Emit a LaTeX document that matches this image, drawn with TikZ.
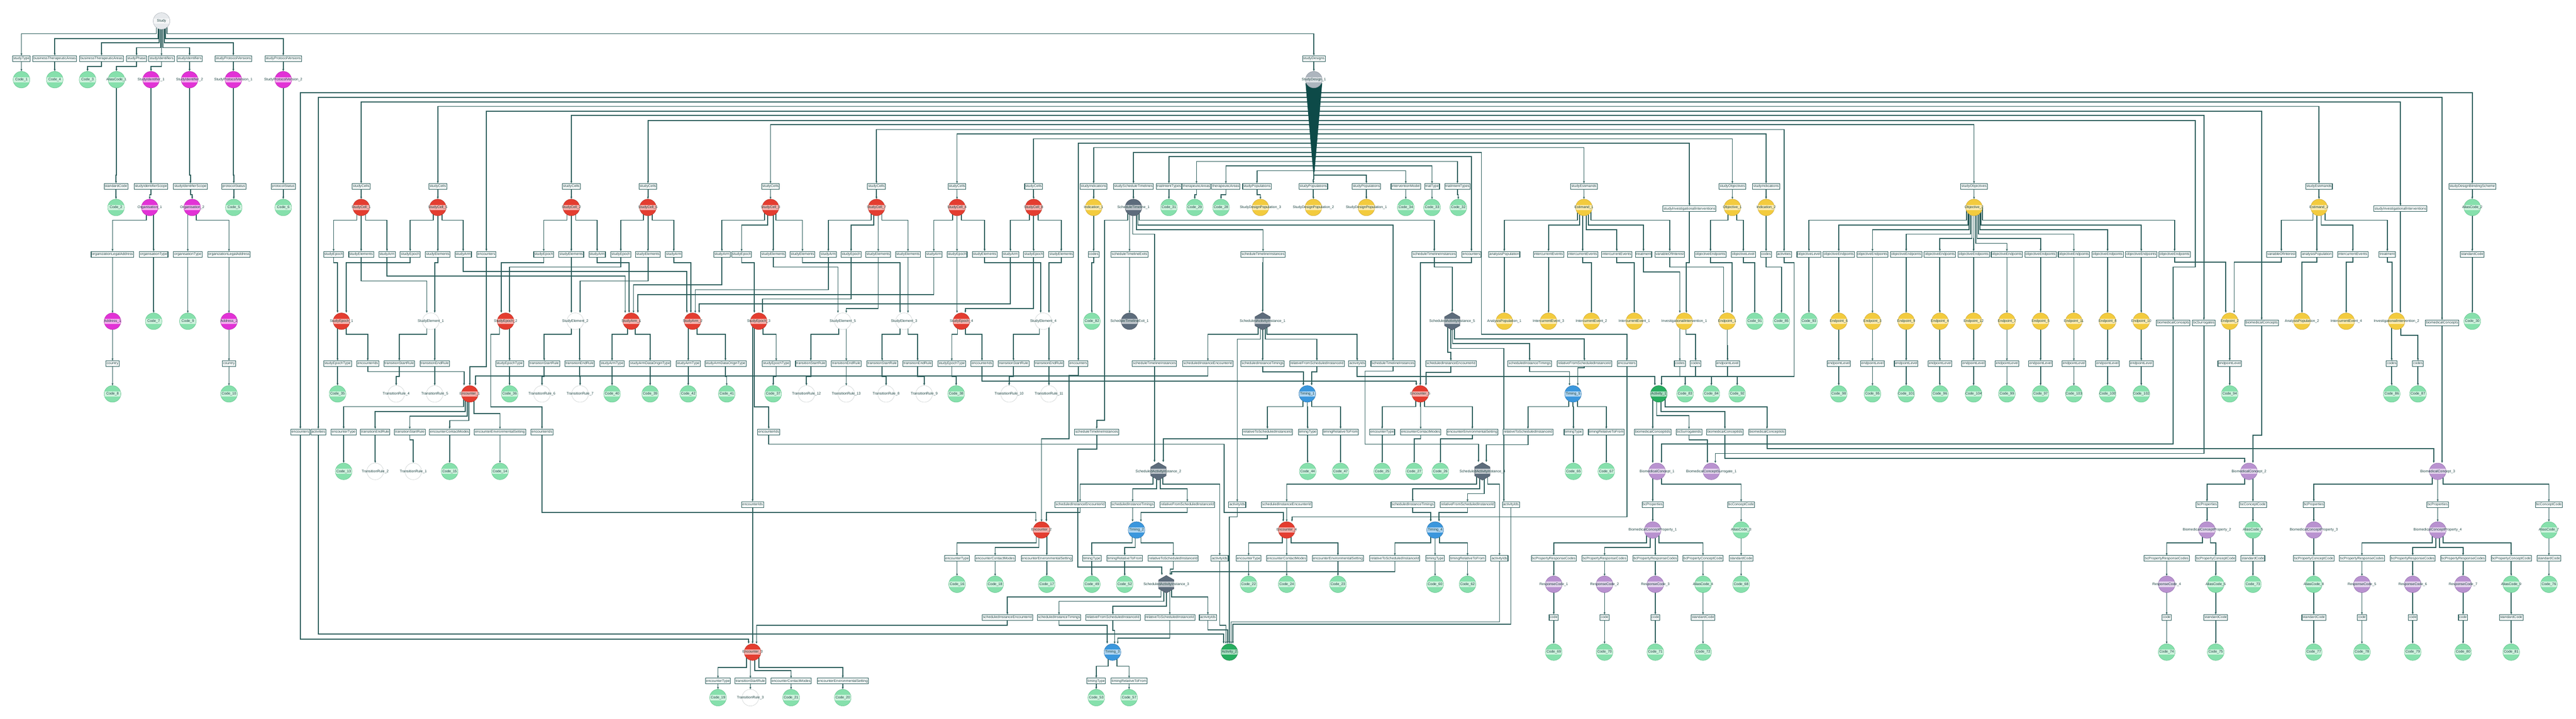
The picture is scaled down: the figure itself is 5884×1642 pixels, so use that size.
\documentclass[tikz,border=0pt]{standalone}
\usepackage{fontspec}
\setmainfont{Liberation Sans}
\usetikzlibrary{arrows.meta,shapes.geometric}
\pgfdeclarelayer{bg}
\pgfsetlayers{bg,main}
\definecolor{ln}{HTML}{2A5C5A}
\definecolor{tx}{HTML}{1A4240}
\definecolor{fanc}{HTML}{0D4A48}
\definecolor{cgr}{HTML}{86E0AC}\definecolor{cgrb}{HTML}{5EBF88}
\definecolor{cmg}{HTML}{E232D6}\definecolor{cmgb}{HTML}{B524AA}
\definecolor{crd}{HTML}{E43D30}\definecolor{crdb}{HTML}{B32D22}
\definecolor{cyl}{HTML}{F3CB3E}\definecolor{cylb}{HTML}{C9A42E}
\definecolor{cbl}{HTML}{3B97DD}\definecolor{cblb}{HTML}{2A72AA}
\definecolor{cpu}{HTML}{B992D0}\definecolor{cpub}{HTML}{8E69A8}
\definecolor{cdg}{HTML}{27AD5F}\definecolor{cdgb}{HTML}{1C7F45}
\definecolor{csl}{HTML}{5D6C7C}\definecolor{cslb}{HTML}{454F5C}
\definecolor{clg}{HTML}{E6E9EC}\definecolor{clgb}{HTML}{A8AFB5}
\definecolor{csd}{HTML}{ADB5BE}\definecolor{csdb}{HTML}{8A929B}
\definecolor{cwhb}{HTML}{C8CDCD}
\newcommand\nfs{\fontsize{5.8pt}{6.5pt}\selectfont}
\tikzset{
 bx/.style={draw=ln, fill=white, line width=0.9pt, inner xsep=1.1pt, inner ysep=1.7pt, text=tx, font=\nfs, text height=4.4pt, text depth=1.4pt},
 cband/.style={path picture={\fill[white,fill opacity=0.6] ([yshift=-1.5mm]path picture bounding box.west) rectangle ([yshift=1.5mm]path picture bounding box.east);}},
 ccirc/.style={circle, minimum size=9.5mm, inner sep=0pt, line width=0.45pt, cband},
 ngr/.style={ccirc, fill=cgr, draw=cgrb},
 nmg/.style={ccirc, fill=cmg, draw=cmgb},
 nrd/.style={ccirc, fill=crd, draw=crdb},
 nyl/.style={ccirc, fill=cyl, draw=cylb},
 nbl/.style={ccirc, fill=cbl, draw=cblb},
 npu/.style={ccirc, fill=cpu, draw=cpub},
 ndg/.style={ccirc, fill=cdg, draw=cdgb},
 nsl/.style={ccirc, fill=csl, draw=cslb},
 nlg/.style={ccirc, fill=clg, draw=clgb},
 nsd/.style={ccirc, fill=csd, draw=csdb},
 nwh/.style={ccirc, fill=white, draw=cwhb},
 nhx/.style={circle, minimum size=10.4mm, inner sep=0pt, path picture={
   \path[fill=csl, draw=cslb, line width=0.45pt] (path picture bounding box.center) ++(90:5.05mm) -- ++(-30:5.05mm) -- ++(-90:5.05mm) -- ++(-150:5.05mm) -- ++(150:5.05mm) -- ++(90:5.05mm) -- cycle;
   \fill[white, fill opacity=0.6] ([xshift=-4.35mm,yshift=-1.5mm]path picture bounding box.center) rectangle ([xshift=4.35mm,yshift=1.5mm]path picture bounding box.center);}},
 cl/.style={font=\nfs, text=tx, inner sep=0pt},
 conn/.style={draw=ln, line width=0.5mm, -{Stealth[length=1.3mm,width=1.1mm]}},
}
\newcommand\NB[4]{\node[bx] (#1) at (#2,#3) {#4};}
\newcommand\NC[5]{\node[#5] (#1) at (#2,#3) {}; \node[cl] (#1-t) at (#1.center) {#4};}
\newcommand\eD[5]{%
 \path ([xshift=#2*0.25mm]#1.center) coordinate (es) ([xshift=#4*0.25mm]#3.north) coordinate (et) (0,#5) coordinate (em);
 \draw[conn] (es) -- (es |- em) -- (et |- em) -- (et);}
\newcommand\eS[3]{\eD{#1}{0}{#2}{0}{#3}}
\newcommand\eF[7]{%
 \path ([xshift=#2*0.25mm]#1.center) coordinate (es) ([xshift=#4*0.25mm]#3.north) coordinate (et) (#6,#5) coordinate (ea) (#6,#7) coordinate (eb);
 \draw[conn] (es) -- (es |- ea) -- (ea) -- (eb) -- (et |- eb) -- (et);}
\begin{document}
\begin{tikzpicture}[x=0.25mm,y=-0.25mm]
\useasboundingbox (0,0) rectangle (5884,1642);
\begin{pgfonlayer}{bg}\fill[white] (0,0) rectangle (5884,1642);\end{pgfonlayer}
% ===== top =====
\NC{study}{369}{48}{Study}{nlg}
\NB{bst}{49}{134}{studyType}
\NB{bta1}{125}{134}{businessTherapeuticAreas}
\NB{bta2}{232}{134}{businessTherapeuticAreas}
\NB{bsp}{312}{134}{studyPhase}
\NB{bsi1}{369}{134}{studyIdentifiers}
\NB{bsi2}{433}{134}{studyIdentifiers}
\NB{bspv1}{533}{134}{studyProtocolVersions}
\NB{bspv2}{647}{134}{studyProtocolVersions}
\NB{bsd}{3001}{134}{studyDesigns}
\NC{code1}{49}{182}{Code\_1}{ngr}
\NC{code4}{125}{182}{Code\_4}{ngr}
\NC{code3}{200}{182}{Code\_3}{ngr}
\NC{alias1}{266}{182}{AliasCode\_1}{ngr}
\NC{sid1}{345}{182}{StudyIdentifier\_1}{nmg}
\NC{sid2}{433}{182}{StudyIdentifier\_2}{nmg}
\NC{spv1}{533}{182}{StudyProtocolVersion\_1}{nmg}
\NC{spv2}{647}{182}{StudyProtocolVersion\_2}{nmg}
\NC{sd1}{3001}{182}{StudyDesign\_1}{nsd}
% ===== left column =====
\NB{lstd}{265}{426}{standardCode}
\NB{lsis1}{345}{426}{studyIdentifierScope}
\NB{lsis2}{435}{426}{studyIdentifierScope}
\NB{lps1}{534}{426}{protocolStatus}
\NB{lps2}{647}{426}{protocolStatus}
\NC{code2}{265}{474}{Code\_2}{ngr}
\NC{org1}{342}{474}{Organisation\_1}{nmg}
\NC{org2}{439}{474}{Organisation\_2}{nmg}
\NC{code5}{534}{474}{Code\_5}{ngr}
\NC{code6}{647}{474}{Code\_6}{ngr}
\NB{ola1}{257}{581}{organizationLegalAddress}
\NB{ot1}{351}{581}{organisationType}
\NB{ot2}{429}{581}{organisationType}
\NB{ola2}{523}{581}{organizationLegalAddress}
\NC{addr1}{257}{734}{Address\_1}{nmg}
\NC{code7}{351}{734}{Code\_7}{ngr}
\NC{code9}{429}{734}{Code\_9}{ngr}
\NC{addr2}{523}{734}{Address\_2}{nmg}
\NB{ctry1}{257}{831}{country}
\NB{ctry2}{523}{831}{country}
\NC{code8}{257}{900}{Code\_8}{ngr}
\NC{code10}{523}{900}{Code\_10}{ngr}
% ===== C row =====
\NB{sc1b}{825}{426}{studyCells}
\NB{sc5b}{1000}{426}{studyCells}
\NB{sc2b}{1305}{426}{studyCells}
\NB{sc6b}{1480}{426}{studyCells}
\NB{sc3b}{1760}{426}{studyCells}
\NB{sc7b}{2002}{426}{studyCells}
\NB{sc4b}{2186}{426}{studyCells}
\NB{sc8b}{2361}{426}{studyCells}
\NB{cind1}{2498}{426}{studyIndications}
\NB{csst}{2589}{426}{studyScheduleTimelines}
\NB{ctit1}{2670}{426}{trialIntentTypes}
\NB{cta1}{2733}{426}{therapeuticAreas}
\NB{cta2}{2800}{426}{therapeuticAreas}
\NB{csp3}{2871}{426}{studyPopulations}
\NB{csp2}{3000}{426}{studyPopulations}
\NB{csp1}{3121}{426}{studyPopulations}
\NB{cim}{3211}{426}{interventionModel}
\NB{ctt}{3271}{426}{trialType}
\NB{ctit2}{3329}{426}{trialIntentTypes}
\NB{cest1}{3618}{426}{studyEstimands}
\NB{csii1}{3859}{477}{studyInvestigationalInterventions}
\NB{cobj1}{3957}{426}{studyObjectives}
\NB{cind2}{4034}{426}{studyIndications}
\NB{cobj2}{4509}{426}{studyObjectives}
\NB{cest2}{5297}{426}{studyEstimands}
\NB{csii2}{5483}{477}{studyInvestigationalInterventions}
\NB{cbs}{5647}{426}{studyDesignBlindingScheme}
\NC{sc1}{825}{474}{StudyCell\_1}{nrd}
\NC{sc5}{1000}{474}{StudyCell\_5}{nrd}
\NC{sc2}{1305}{474}{StudyCell\_2}{nrd}
\NC{sc6}{1480}{474}{StudyCell\_6}{nrd}
\NC{sc3}{1760}{474}{StudyCell\_3}{nrd}
\NC{sc7}{2002}{474}{StudyCell\_7}{nrd}
\NC{sc4}{2186}{474}{StudyCell\_4}{nrd}
\NC{sc8}{2361}{474}{StudyCell\_8}{nrd}
\NC{ind1}{2498}{474}{Indication\_1}{nyl}
\NC{stl1}{2589}{474}{ScheduleTimeline\_1}{nsl}
\NC{code31}{2670}{474}{Code\_31}{ngr}
\NC{code29}{2729}{474}{Code\_29}{ngr}
\NC{code28}{2789}{474}{Code\_28}{ngr}
\NC{sdp3}{2879}{474}{StudyDesignPopulation\_3}{nyl}
\NC{sdp2}{3000}{474}{StudyDesignPopulation\_2}{nyl}
\NC{sdp1}{3121}{474}{StudyDesignPopulation\_1}{nyl}
\NC{code34}{3211}{474}{Code\_34}{ngr}
\NC{code33}{3271}{474}{Code\_33}{ngr}
\NC{code32}{3331}{474}{Code\_32}{ngr}
\NC{est1}{3618}{474}{Estimand\_1}{nyl}
\NC{obj1}{3957}{474}{Objective\_1}{nyl}
\NC{ind2}{4034}{474}{Indication\_2}{nyl}
\NC{obj2}{4509}{474}{Objective\_2}{nyl}
\NC{est2}{5297}{474}{Estimand\_2}{nyl}
\NC{alias2}{5647}{474}{AliasCode\_2}{ngr}
% ===== D row boxes =====
\NB{d1}{762}{581}{studyEpoch}
\NB{d2}{825}{581}{studyElements}
\NB{d3}{884}{581}{studyArm}
\NB{d4}{937}{581}{studyEpoch}
\NB{d5}{1000}{581}{studyElements}
\NB{d6}{1058}{581}{studyArm}
\NB{dEnc1}{1111}{581}{encounters}
\NB{d7}{1242}{581}{studyEpoch}
\NB{d8}{1305}{581}{studyElements}
\NB{d9}{1364}{581}{studyArm}
\NB{d10}{1418}{581}{studyEpoch}
\NB{d11}{1480}{581}{studyElements}
\NB{d12}{1539}{581}{studyArm}
\NB{d13}{1649}{581}{studyArm}
\NB{d14}{1694}{581}{studyEpoch}
\NB{d15}{1766}{581}{studyElements}
\NB{d16}{1833}{581}{studyElements}
\NB{d17}{1892}{581}{studyArm}
\NB{d18}{1944}{581}{studyEpoch}
\NB{d19}{2006}{581}{studyElements}
\NB{d20}{2074}{581}{studyElements}
\NB{d21}{2133}{581}{studyArm}
\NB{d22}{2186}{581}{studyEpoch}
\NB{d23}{2249}{581}{studyElements}
\NB{d24}{2308}{581}{studyArm}
\NB{d25}{2361}{581}{studyEpoch}
\NB{d26}{2424}{581}{studyElements}
\NB{d27}{2498}{581}{codes}
\NB{d28}{2580}{581}{scheduleTimelineExits}
\NB{d29}{2885}{581}{scheduleTimelineInstances}
\NB{d30}{3276}{581}{scheduleTimelineInstances}
\NB{dEnc3}{3361}{581}{encounters}
\NB{apb1}{3436}{581}{analysisPopulation}
\NB{ieb1}{3537}{581}{intercurrentEvents}
\NB{ieb2}{3615}{581}{intercurrentEvents}
\NB{ieb3}{3693}{581}{intercurrentEvents}
\NB{trt1}{3754}{581}{treatment}
\NB{voi1}{3814}{581}{variableOfInterest}
\NB{oeO1}{3907}{581}{objectiveEndpoints}
\NB{ol1}{3982}{581}{objectiveLevel}
\NB{codesI2}{4034}{581}{codes}
\NB{dAct}{4075}{581}{activities}
\NB{ol2}{4132}{581}{objectiveLevel}
\NB{oeK}{4967}{581}{objectiveEndpoints}
\NB{voi2}{5211}{581}{variableOfInterest}
\NB{apb2}{5292}{581}{analysisPopulation}
\NB{ieb4}{5374}{581}{intercurrentEvents}
\NB{trt2}{5453}{581}{treatment}
\NB{std2}{5647}{581}{standardCode}
% ===== D row circles =====
\NC{ep1}{780}{734}{StudyEpoch\_1}{nrd}
\NC{el1}{984}{734}{StudyElement\_1}{nwh}
\NC{ep2}{1155}{734}{StudyEpoch\_2}{nrd}
\NC{el2}{1314}{734}{StudyElement\_2}{nwh}
\NC{arm1}{1442}{734}{StudyArm\_1}{nrd}
\NC{arm2}{1582}{734}{StudyArm\_2}{nrd}
\NC{ep3}{1733}{734}{StudyEpoch\_3}{nrd}
\NC{el5}{1925}{734}{StudyElement\_5}{nwh}
\NC{el3}{2065}{734}{StudyElement\_3}{nwh}
\NC{ep4}{2196}{734}{StudyEpoch\_4}{nrd}
\NC{el4}{2383}{734}{StudyElement\_4}{nwh}
\NC{code82}{2494}{734}{Code\_82}{ngr}
\NC{stlx1}{2580}{734}{ScheduleTimelineExit\_1}{nsl}
\NC{sai1}{2884}{734}{ScheduledActivityInstance\_1}{nhx}
\NC{sai5}{3317}{734}{ScheduledActivityInstance\_5}{nhx}
\NC{ap1}{3436}{734}{AnalysisPopulation\_1}{nyl}
\NC{ie3}{3537}{734}{IntercurrentEvent\_3}{nyl}
\NC{ie2}{3635}{734}{IntercurrentEvent\_2}{nyl}
\NC{ie1}{3733}{734}{IntercurrentEvent\_1}{nyl}
\NC{ii1}{3847}{734}{InvestigationalIntervention\_1}{nyl}
\NC{endp1}{3945}{734}{Endpoint\_1}{nyl}
\NC{code91}{4008}{734}{Code\_91}{ngr}
\NC{code85}{4069}{734}{Code\_85}{ngr}
\NC{code93}{4132}{734}{Code\_93}{ngr}
\NB{dbc1}{4964}{738}{biomedicalConcepts}
\NB{dbcs}{5034}{738}{bcSurrogates}
\NC{endp2}{5093}{734}{Endpoint\_2}{nyl}
\NB{dbc2}{5166}{738}{biomedicalConcepts}
\NC{ap2}{5258}{734}{AnalysisPopulation\_2}{nyl}
\NC{ie4}{5359}{734}{IntercurrentEvent\_4}{nyl}
\NC{ii2}{5474}{734}{InvestigationalIntervention\_2}{nyl}
\NB{dbc3}{5578}{738}{biomedicalConcepts}
\NC{code30}{5647}{734}{Code\_30}{ngr}
\foreach \qx/\qn/\qc [count=\qi] in {4200/6/98, 4277/3/95, 4354/9/101, 4431/4/96, 4508/12/104, 4584/7/99, 4661/5/97, 4737/11/103, 4814/8/100, 4891/10/102}{
 \NB{oeX\qi}{\qx}{581}{objectiveEndpoints}
 \NC{ept\qi}{\qx}{734}{Endpoint\_\qn}{nyl}
 \NB{eplX\qi}{\qx}{831}{endpointLevel}
 \NC{epc\qi}{\qx}{900}{Code\_\qc}{ngr}
}
% ===== E row boxes =====
\NB{eet1}{771}{831}{studyEpochType}
\NB{eid1}{840}{831}{encounterIds}
\NB{tsr1}{912}{831}{transitionStartRule}
\NB{ter1}{993}{831}{transitionEndRule}
\NB{eet2}{1164}{831}{studyEpochType}
\NB{tsr2}{1243}{831}{transitionStartRule}
\NB{ter2}{1324}{831}{transitionEndRule}
\NB{sat1}{1398}{831}{studyArmType}
\NB{sado1}{1485}{831}{studyArmDataOriginType}
\NB{sat2}{1572}{831}{studyArmType}
\NB{sado2}{1657}{831}{studyArmDataOriginType}
\NB{eet3}{1773}{831}{studyEpochType}
\NB{tsr5}{1852}{831}{transitionStartRule}
\NB{ter5}{1933}{831}{transitionEndRule}
\NB{tsr3}{2015}{831}{transitionStartRule}
\NB{ter3}{2096}{831}{transitionEndRule}
\NB{eet4}{2174}{831}{studyEpochType}
\NB{eid5}{2243}{831}{encounterIds}
\NB{tsr4}{2315}{831}{transitionStartRule}
\NB{ter4}{2396}{831}{transitionEndRule}
\NB{eEnc2}{2463}{831}{encounters}
\NB{esti1}{2637}{831}{scheduleTimelineInstances}
\NB{sieid1}{2759}{831}{scheduledInstanceEncounterId}
\NB{sit1}{2884}{831}{scheduledInstanceTimings}
\NB{rfsi1}{3008}{831}{relativeFromScheduledInstanceId}
\NB{aid1}{3100}{831}{activityIds}
\NB{esti2}{3182}{831}{scheduleTimelineInstances}
\NB{sieid5}{3314}{831}{scheduledInstanceEncounterId}
\NB{sit5}{3494}{831}{scheduledInstanceTimings}
\NB{rfsi5}{3619}{831}{relativeFromScheduledInstanceId}
\NB{eEnc5}{3716}{831}{encounters}
\NB{codesA}{3837}{831}{codes}
\NB{codesB}{3873}{831}{codes}
\NB{eplE1}{3946}{831}{endpointLevel}
\NB{eplE2}{5093}{831}{endpointLevel}
\NB{codesC}{5463}{831}{codes}
\NB{codesD}{5523}{831}{codes}
% ===== E row circles =====
\NC{code35}{771}{900}{Code\_35}{ngr}
\NC{tr4}{905}{900}{TransitionRule\_4}{nwh}
\NC{tr5}{993}{900}{TransitionRule\_5}{nwh}
\NC{enc1}{1073}{900}{Encounter\_1}{nrd}
\NC{code36}{1164}{900}{Code\_36}{ngr}
\NC{tr6}{1238}{900}{TransitionRule\_6}{nwh}
\NC{tr7}{1325}{900}{TransitionRule\_7}{nwh}
\NC{code40}{1398}{900}{Code\_40}{ngr}
\NC{code39}{1485}{900}{Code\_39}{ngr}
\NC{code42}{1572}{900}{Code\_42}{ngr}
\NC{code41}{1660}{900}{Code\_41}{ngr}
\NC{code37}{1766}{900}{Code\_37}{ngr}
\NC{tr12}{1842}{900}{TransitionRule\_12}{nwh}
\NC{tr13}{1933}{900}{TransitionRule\_13}{nwh}
\NC{tr8}{2024}{900}{TransitionRule\_8}{nwh}
\NC{tr9}{2111}{900}{TransitionRule\_9}{nwh}
\NC{code38}{2184}{900}{Code\_38}{ngr}
\NC{tr10}{2305}{900}{TransitionRule\_10}{nwh}
\NC{tr11}{2396}{900}{TransitionRule\_11}{nwh}
\NC{timing1}{2986}{900}{Timing\_1}{nbl}
\NC{enc5}{3244}{900}{Encounter\_5}{nrd}
\NC{timing5}{3593}{900}{Timing\_5}{nbl}
\NC{act1}{3789}{900}{Activity\_1}{ndg}
\NC{code83}{3849}{900}{Code\_83}{ngr}
\NC{code84}{3909}{900}{Code\_84}{ngr}
\NC{code92}{3968}{900}{Code\_92}{ngr}
\NC{code94}{5093}{900}{Code\_94}{ngr}
\NC{code86}{5463}{900}{Code\_86}{ngr}
\NC{code87}{5523}{900}{Code\_87}{ngr}
% ===== F row =====
\NB{fEncA}{686}{987}{encounters}
\NB{fActA}{727}{987}{activities}
\NB{fet1}{785}{987}{encounterType}
\NB{fter}{857}{987}{transitionEndRule}
\NB{ftsr}{936}{987}{transitionStartRule}
\NB{fecm}{1027}{987}{encounterContactModes}
\NB{fees}{1142}{987}{encounterEnvironmentalSetting}
\NB{eid2}{1238}{987}{encounterIds}
\NB{eid3}{1756}{987}{encounterIds}
\NB{fsti3}{2505}{987}{scheduleTimelineInstances}
\NB{rtsi1}{2895}{987}{relativeToScheduledInstanceId}
\NB{tty1}{2987}{987}{timingType}
\NB{trf1}{3062}{987}{timingRelativeToFrom}
\NB{et5}{3157}{987}{encounterType}
\NB{ecm5}{3245}{987}{encounterContactModes}
\NB{ees5}{3363}{987}{encounterEnvironmentalSetting}
\NB{rtsi5}{3490}{987}{relativeToScheduledInstanceId}
\NB{tty5}{3594}{987}{timingType}
\NB{trf5}{3669}{987}{timingRelativeToFrom}
\NB{bcid1}{3775}{987}{biomedicalConceptIds}
\NB{bcsid1}{3858}{987}{bcSurrogateIds}
\NB{bcid2}{3940}{987}{biomedicalConceptIds}
\NB{bcid3}{4036}{987}{biomedicalConceptIds}
\NC{code13}{785}{1077}{Code\_13}{ngr}
\NC{tr2}{857}{1077}{TransitionRule\_2}{nwh}
\NC{tr1}{944}{1077}{TransitionRule\_1}{nwh}
\NC{code15}{1027}{1077}{Code\_15}{ngr}
\NC{code14}{1142}{1077}{Code\_14}{ngr}
\NC{sai2}{2646}{1077}{ScheduledActivityInstance\_2}{nhx}
\NC{code44}{2987}{1077}{Code\_44}{ngr}
\NC{code47}{3062}{1077}{Code\_47}{ngr}
\NC{code25}{3157}{1077}{Code\_25}{ngr}
\NC{code27}{3230}{1077}{Code\_27}{ngr}
\NC{code26}{3290}{1077}{Code\_26}{ngr}
\NC{sai4}{3386}{1077}{ScheduledActivityInstance\_4}{nhx}
\NC{code65}{3594}{1077}{Code\_65}{ngr}
\NC{code67}{3669}{1077}{Code\_67}{ngr}
\NC{bc1}{3785}{1077}{BiomedicalConcept\_1}{npu}
\NC{bcs1}{3909}{1077}{BiomedicalConceptSurrogate\_1}{npu}
\NC{bc2}{5137}{1077}{BiomedicalConcept\_2}{npu}
\NC{bc3}{5568}{1077}{BiomedicalConcept\_3}{npu}
% ===== G row =====
\NB{eid4}{1719}{1153}{encounterIds}
\NB{gsieid2}{2467}{1153}{scheduledInstanceEncounterId}
\NB{gsit2}{2587}{1153}{scheduledInstanceTimings}
\NB{grfsi2}{2712}{1153}{relativeFromScheduledInstanceId}
\NB{gaid2}{2826}{1153}{activityIds}
\NB{gsieid4}{2939}{1153}{scheduledInstanceEncounterId}
\NB{gsit4}{3227}{1153}{scheduledInstanceTimings}
\NB{grfsi4}{3352}{1153}{relativeFromScheduledInstanceId}
\NB{gaid5}{3451}{1153}{activityIds}
\NB{gbcp1}{3775}{1153}{bcProperties}
\NB{gbcc1}{3977}{1153}{bcConceptCode}
\NB{gbcp2}{5041}{1153}{bcProperties}
\NB{gbcc2}{5146}{1153}{bcConceptCode}
\NB{gbcp3}{5285}{1153}{bcProperties}
\NB{gbcp4}{5568}{1153}{bcProperties}
\NB{gbcc3}{5822}{1153}{bcConceptCode}
\NC{enc2}{2379}{1211}{Encounter\_2}{nrd}
\NC{timing2}{2596}{1211}{Timing\_2}{nbl}
\NC{enc4}{2939}{1211}{Encounter\_4}{nrd}
\NC{timing4}{3278}{1211}{Timing\_4}{nbl}
\NC{bcp1}{3775}{1211}{BiomedicalConceptProperty\_1}{npu}
\NC{alias3}{3977}{1211}{AliasCode\_3}{ngr}
\NC{bcp2}{5041}{1211}{BiomedicalConceptProperty\_2}{npu}
\NC{alias5}{5146}{1211}{AliasCode\_5}{ngr}
\NC{bcp3}{5285}{1211}{BiomedicalConceptProperty\_3}{npu}
\NC{bcp4}{5568}{1211}{BiomedicalConceptProperty\_4}{npu}
\NC{alias7}{5822}{1211}{AliasCode\_7}{ngr}
% ===== H row =====
\NB{het2}{2186}{1276}{encounterType}
\NB{hecm2}{2273}{1276}{encounterContactModes}
\NB{hees2}{2391}{1276}{encounterEnvironmentalSetting}
\NB{htty2}{2494}{1276}{timingType}
\NB{htrf2}{2569}{1276}{timingRelativeToFrom}
\NB{hrtsi2}{2680}{1276}{relativeToScheduledInstanceId}
\NB{haid2}{2786}{1276}{activityIds}
\NB{het4}{2852}{1276}{encounterType}
\NB{hecm4}{2939}{1276}{encounterContactModes}
\NB{hees4}{3056}{1276}{encounterEnvironmentalSetting}
\NB{hrtsi4}{3186}{1276}{relativeToScheduledInstanceId}
\NB{htty4}{3278}{1276}{timingType}
\NB{htrf4}{3352}{1276}{timingRelativeToFrom}
\NB{haid4}{3425}{1276}{activityIds}
\NB{hprc1}{3549}{1276}{bcPropertyResponseCodes}
\NB{hprc2}{3665}{1276}{bcPropertyResponseCodes}
\NB{hprc3}{3781}{1276}{bcPropertyResponseCodes}
\NB{hpcc1}{3890}{1276}{bcPropertyConceptCode}
\NB{hstd3}{3977}{1276}{standardCode}
\NB{hprc4}{4949}{1276}{bcPropertyResponseCodes}
\NB{hpcc2}{5061}{1276}{bcPropertyConceptCode}
\NB{hstd5}{5146}{1276}{standardCode}
\NB{hpcc3}{5285}{1276}{bcPropertyConceptCode}
\NB{hprc5}{5395}{1276}{bcPropertyResponseCodes}
\NB{hprc6}{5511}{1276}{bcPropertyResponseCodes}
\NB{hprc7}{5626}{1276}{bcPropertyResponseCodes}
\NB{hpcc4}{5736}{1276}{bcPropertyConceptCode}
\NB{hstd7}{5822}{1276}{standardCode}
\NC{code16}{2186}{1335}{Code\_16}{ngr}
\NC{code18}{2273}{1335}{Code\_18}{ngr}
\NC{code17}{2391}{1335}{Code\_17}{ngr}
\NC{code49}{2494}{1335}{Code\_49}{ngr}
\NC{code52}{2569}{1335}{Code\_52}{ngr}
\NC{sai3}{2664}{1335}{ScheduledActivityInstance\_3}{nhx}
\NC{code22}{2852}{1335}{Code\_22}{ngr}
\NC{code24}{2939}{1335}{Code\_24}{ngr}
\NC{code23}{3056}{1335}{Code\_23}{ngr}
\NC{code60}{3278}{1335}{Code\_60}{ngr}
\NC{code62}{3352}{1335}{Code\_62}{ngr}
\NC{rc1}{3549}{1335}{ResponseCode\_1}{npu}
\NC{rc2}{3665}{1335}{ResponseCode\_2}{npu}
\NC{rc3}{3781}{1335}{ResponseCode\_3}{npu}
\NC{alias4}{3890}{1335}{AliasCode\_4}{ngr}
\NC{code68}{3977}{1335}{Code\_68}{ngr}
\NC{rc4}{4949}{1335}{ResponseCode\_4}{npu}
\NC{alias6}{5061}{1335}{AliasCode\_6}{ngr}
\NC{code73}{5146}{1335}{Code\_73}{ngr}
\NC{alias8}{5285}{1335}{AliasCode\_8}{ngr}
\NC{rc5}{5395}{1335}{ResponseCode\_5}{npu}
\NC{rc6}{5511}{1335}{ResponseCode\_6}{npu}
\NC{rc7}{5626}{1335}{ResponseCode\_7}{npu}
\NC{alias9}{5736}{1335}{AliasCode\_9}{ngr}
\NC{code76}{5822}{1335}{Code\_76}{ngr}
% ===== I row =====
\NB{isieid3}{2301}{1411}{scheduledInstanceEncounterId}
\NB{isit3}{2419}{1411}{scheduledInstanceTimings}
\NB{irfsi3}{2542}{1411}{relativeFromScheduledInstanceId}
\NB{irtsi3}{2672}{1411}{relativeToScheduledInstanceId}
\NB{iaid3}{2759}{1411}{activityIds}
\NB{icode1}{3549}{1411}{code}
\NB{icode2}{3665}{1411}{code}
\NB{icode3}{3781}{1411}{code}
\NB{istd4}{3890}{1411}{standardCode}
\NB{icode4}{4949}{1411}{code}
\NB{istd6}{5061}{1411}{standardCode}
\NB{istd8}{5285}{1411}{standardCode}
\NB{icode5}{5395}{1411}{code}
\NB{icode6}{5511}{1411}{code}
\NB{icode7}{5626}{1411}{code}
\NB{istd9}{5736}{1411}{standardCode}
\NC{enc3}{1719}{1490}{Encounter\_3}{nrd}
\NC{timing3}{2541}{1490}{Timing\_3}{nbl}
\NC{act2}{2808}{1490}{Activity\_2}{ndg}
\NC{code69}{3549}{1490}{Code\_69}{ngr}
\NC{code70}{3665}{1490}{Code\_70}{ngr}
\NC{code71}{3781}{1490}{Code\_71}{ngr}
\NC{code72}{3890}{1490}{Code\_72}{ngr}
\NC{code74}{4949}{1490}{Code\_74}{ngr}
\NC{code75}{5061}{1490}{Code\_75}{ngr}
\NC{code77}{5285}{1490}{Code\_77}{ngr}
\NC{code78}{5395}{1490}{Code\_78}{ngr}
\NC{code79}{5511}{1490}{Code\_79}{ngr}
\NC{code80}{5626}{1490}{Code\_80}{ngr}
\NC{code81}{5736}{1490}{Code\_81}{ngr}
% ===== J row =====
\NB{jet3}{1640}{1556}{encounterType}
\NB{jtsr3}{1714}{1556}{transitionStartRule}
\NB{jecm3}{1807}{1556}{encounterContactModes}
\NB{jees3}{1925}{1556}{encounterEnvironmentalSetting}
\NB{jtty3}{2504}{1556}{timingType}
\NB{jtrf3}{2579}{1556}{timingRelativeToFrom}
\NC{code19}{1640}{1594}{Code\_19}{ngr}
\NC{tr3}{1714}{1594}{TransitionRule\_3}{nwh}
\NC{code21}{1807}{1594}{Code\_21}{ngr}
\NC{code20}{1925}{1594}{Code\_20}{ngr}
\NC{code53}{2504}{1594}{Code\_53}{ngr}
\NC{code57}{2579}{1594}{Code\_57}{ngr}

% ================= CONNECTORS =================
\begin{pgfonlayer}{bg}
% Study
\eD{study}{-12}{bst}{0}{77}
\eD{study}{-8}{bta1}{0}{88}
\eD{study}{-5}{bta2}{0}{98}
\eD{study}{-2}{bsp}{0}{109}
\eD{study}{0}{bsi1}{0}{109}
\eD{study}{3}{bsi2}{0}{109}
\eD{study}{6}{bspv1}{0}{98}
\eD{study}{9}{bspv2}{0}{88}
\eD{study}{12}{bsd}{0}{77}
\eS{bst}{code1}{152}\eS{bta1}{code4}{152}\eS{bta2}{code3}{152}\eS{bsp}{alias1}{152}
\eS{bsi1}{sid1}{152}\eS{bsi2}{sid2}{152}\eS{bspv1}{spv1}{152}\eS{bspv2}{spv2}{152}\eS{bsd}{sd1}{152}
% left column
\eS{alias1}{lstd}{400}\eS{sid1}{lsis1}{400}\eS{sid2}{lsis2}{400}\eS{spv1}{lps1}{400}\eS{spv2}{lps2}{400}
\eS{lstd}{code2}{445}\eS{lsis1}{org1}{445}\eS{lsis2}{org2}{445}\eS{lps1}{code5}{445}\eS{lps2}{code6}{445}
\eD{org1}{-8}{ola1}{0}{503}\eD{org1}{9}{ot1}{0}{503}\eD{org2}{-10}{ot2}{0}{503}\eD{org2}{9}{ola2}{0}{503}
\eS{ola1}{addr1}{600}\eS{ot1}{code7}{600}\eS{ot2}{code9}{600}\eS{ola2}{addr2}{600}
\eS{addr1}{ctry1}{790}\eS{ctry1}{code8}{860}\eS{addr2}{ctry2}{790}\eS{ctry2}{code10}{860}
% StudyDesign fan, left
\eD{sd1}{0}{fEncA}{0}{212}
\eD{sd1}{0}{fActA}{0}{222}
\eD{sd1}{0}{sc1b}{0}{233}
\eD{sd1}{0}{sc5b}{0}{243}
\eD{sd1}{0}{dEnc1}{0}{254}
\eD{sd1}{0}{sc2b}{0}{264}
\eD{sd1}{0}{sc6b}{0}{275}
\eD{sd1}{0}{sc3b}{0}{285}
\eD{sd1}{0}{sc7b}{0}{296}
\eD{sd1}{0}{sc4b}{0}{306}
\eD{sd1}{0}{sc8b}{0}{317}
\eD{sd1}{0}{eEnc2}{0}{327}
\eD{sd1}{0}{cind1}{0}{337}
\eD{sd1}{0}{csst}{0}{348}
\eD{sd1}{0}{ctit1}{0}{358}
\eD{sd1}{0}{cta1}{0}{369}
\eD{sd1}{0}{cta2}{0}{379}
\eD{sd1}{0}{csp3}{0}{390}
% StudyDesign fan, right
\eD{sd1}{0}{cbs}{0}{212}
\eD{sd1}{0}{dbc3}{0}{222}
\eD{sd1}{0}{csii2}{0}{233}
\eD{sd1}{0}{cest2}{0}{243}
\eD{sd1}{0}{dbc2}{0}{254}
\eD{sd1}{0}{dbcs}{0}{264}
\eF{sd1}{0}{dbc1}{0}{275}{5014}{610}
\eD{sd1}{0}{cobj2}{0}{285}
\eD{sd1}{0}{dAct}{0}{296}
\eD{sd1}{0}{cind2}{0}{306}
\eD{sd1}{0}{cobj1}{0}{317}
\eD{sd1}{0}{csii1}{0}{327}
\eD{sd1}{0}{cest1}{0}{337}
\eF{sd1}{0}{eEnc5}{0}{348}{3384}{764}
\eD{sd1}{0}{dEnc3}{0}{358}
\eD{sd1}{0}{ctit2}{0}{369}
\eD{sd1}{0}{ctt}{0}{379}
\eD{sd1}{0}{cim}{0}{390}
\eD{sd1}{0}{csp1}{0}{400}
\eD{sd1}{0}{csp2}{0}{410}
\fill[fanc] (2982,190) -- (3020,190) -- (3002.5,393) -- (2999.5,393) -- cycle;
% C boxes to C circles
\eS{sc1b}{sc1}{445}\eS{sc5b}{sc5}{445}\eS{sc2b}{sc2}{445}\eS{sc6b}{sc6}{445}
\eS{sc3b}{sc3}{445}\eS{sc7b}{sc7}{445}\eS{sc4b}{sc4}{445}\eS{sc8b}{sc8}{445}
\eS{cind1}{ind1}{445}\eS{csst}{stl1}{445}\eS{ctit1}{code31}{445}\eS{cta1}{code29}{445}\eS{cta2}{code28}{445}
\eS{csp3}{sdp3}{445}\eS{csp2}{sdp2}{445}\eS{csp1}{sdp1}{445}\eS{cim}{code34}{445}\eS{ctt}{code33}{445}\eS{ctit2}{code32}{445}
\eS{cest1}{est1}{445}\eS{cobj1}{obj1}{445}\eS{cind2}{ind2}{445}\eS{cobj2}{obj2}{445}\eS{cest2}{est2}{445}\eS{cbs}{alias2}{445}
\eD{csii1}{0}{ii1}{5}{600}
\eD{csii2}{0}{ii2}{9}{600}
% cells
\eD{sc1}{-10}{d1}{0}{503}\eD{sc1}{0}{d2}{0}{503}\eD{sc1}{10}{d3}{0}{503}
\eD{sc5}{-10}{d4}{0}{503}\eD{sc5}{0}{d5}{0}{503}\eD{sc5}{10}{d6}{0}{503}
\eD{sc2}{-10}{d7}{0}{503}\eD{sc2}{0}{d8}{0}{503}\eD{sc2}{10}{d9}{0}{503}
\eD{sc6}{-10}{d10}{0}{503}\eD{sc6}{0}{d11}{0}{503}\eD{sc6}{10}{d12}{0}{503}
\eD{sc3}{-14}{d13}{0}{503}\eD{sc3}{-7}{d14}{0}{514}\eD{sc3}{6}{d15}{0}{503}\eD{sc3}{12}{d16}{0}{503}
\eD{sc7}{-12}{d17}{0}{503}\eD{sc7}{-6}{d18}{0}{514}\eD{sc7}{4}{d19}{0}{503}\eD{sc7}{12}{d20}{0}{503}
\eD{sc4}{-10}{d21}{0}{503}\eD{sc4}{0}{d22}{0}{503}\eD{sc4}{10}{d23}{0}{503}
\eD{sc8}{-10}{d24}{0}{503}\eD{sc8}{0}{d25}{0}{503}\eD{sc8}{10}{d26}{0}{503}
% D boxes to D circles
\eD{d1}{0}{ep1}{-9}{600}\eD{d4}{0}{ep1}{11}{600}
\eD{d2}{0}{el1}{-9}{642}\eD{d5}{0}{el1}{9}{600}
\eD{d3}{0}{arm1}{-14}{631}\eD{d6}{0}{arm2}{-13}{620}
\eD{d7}{0}{ep2}{-10}{600}\eD{d10}{0}{ep2}{9}{610}
\eD{d8}{0}{el2}{-9}{600}\eD{d11}{0}{el2}{11}{642}
\eD{d9}{0}{arm1}{-5}{600}\eD{d12}{0}{arm2}{-4}{600}
\eD{d13}{0}{arm1}{5}{651}\eD{d21}{0}{arm1}{15}{673}
\eD{d17}{0}{arm2}{6}{662}\eD{d24}{0}{arm2}{15}{694}
\eD{d14}{0}{ep3}{-10}{600}\eD{d18}{0}{ep3}{9}{683}
\eD{d15}{0}{el5}{-11}{610}\eD{d19}{0}{el5}{8}{705}
\eD{d16}{0}{el3}{-9}{600}\eD{d20}{0}{el3}{9}{600}
\eD{d22}{0}{ep4}{-10}{600}\eD{d25}{0}{ep4}{9}{705}
\eD{d23}{0}{el4}{-6}{600}\eD{d26}{0}{el4}{13}{600}
\eS{ind1}{d27}{540}\eS{d27}{code82}{600}
\eD{stl1}{-9}{d28}{0}{520}\eS{d28}{stlx1}{600}
\eD{stl1}{-2}{esti1}{0}{535}
\eD{stl1}{7}{d29}{0}{525}\eS{d29}{sai1}{600}
\eD{stl1}{10}{esti2}{0}{514}
\eD{stl1}{13}{d30}{0}{503}\eS{d30}{sai5}{610}
\eF{stl1}{-13}{fsti3}{0}{503}{2523}{960}
\eS{dEnc3}{enc5}{600}
\eS{dEnc1}{enc1}{838}
% estimand 1, objective 1, indication 2
\eD{est1}{-15}{apb1}{0}{503}\eD{est1}{-10}{ieb1}{0}{514}\eD{est1}{-3}{ieb2}{0}{514}
\eD{est1}{5}{ieb3}{0}{525}\eD{est1}{10}{trt1}{0}{514}\eD{est1}{16}{voi1}{0}{503}
\eS{apb1}{ap1}{600}\eS{ieb1}{ie3}{600}\eS{ieb2}{ie2}{600}\eS{ieb3}{ie1}{600}
\eD{trt1}{0}{ii1}{-10}{621}\eD{voi1}{0}{endp1}{-8}{610}
\eD{obj1}{-10}{oeO1}{0}{503}\eD{obj1}{10}{ol1}{0}{503}
\eD{oeO1}{0}{endp1}{11}{600}\eS{ol1}{code91}{600}
\eS{ind2}{codesI2}{503}\eS{codesI2}{code85}{610}
\eF{dAct}{0}{act1}{6}{600}{4098}{860}
\eD{ii1}{-10}{codesA}{0}{764}\eD{ii1}{4}{codesB}{0}{764}
\eS{codesA}{code83}{860}\eS{codesB}{code84}{860}
\eS{endp1}{eplE1}{790}\eS{eplE1}{code92}{860}
% objective 2
\eD{obj2}{-17}{ol2}{0}{503}\eS{ol2}{code93}{600}
\foreach \qd/\qy [count=\qi] in {-14/514, -11/525, -8/535, -5/545, 0/545, 4/556, 7/545, 10/535, 13/525, 16/514}{
 \eD{obj2}{\qd}{oeX\qi}{0}{\qy}
 \eS{oeX\qi}{ept\qi}{600}
 \eS{ept\qi}{eplX\qi}{790}
 \eS{eplX\qi}{epc\qi}{860}
}
\eD{obj2}{19}{oeK}{0}{503}
\eD{oeK}{0}{endp2}{-9}{599}
% estimand 2
\eD{est2}{-14}{voi2}{0}{503}\eD{est2}{-5}{apb2}{0}{503}\eD{est2}{5}{ieb4}{0}{514}\eD{est2}{14}{trt2}{0}{503}
\eD{voi2}{0}{endp2}{10}{599}\eS{apb2}{ap2}{599}\eS{ieb4}{ie4}{599}\eD{trt2}{0}{ii2}{-10}{599}
\eS{alias2}{std2}{540}\eS{std2}{code30}{650}
\eD{ii2}{-11}{codesC}{0}{766}\eD{ii2}{10}{codesD}{0}{766}
\eS{codesC}{code86}{860}\eS{codesD}{code87}{860}
\eS{endp2}{eplE2}{790}\eS{eplE2}{code94}{860}
% epochs, elements, arms
\eD{ep1}{-9}{eet1}{0}{764}\eD{ep1}{11}{eid1}{0}{764}
\eS{eet1}{code35}{860}\eD{eid1}{0}{enc1}{-13}{849}
\eD{el1}{-9}{tsr1}{0}{764}\eD{el1}{9}{ter1}{0}{764}
\eS{tsr1}{tr4}{860}\eS{ter1}{tr5}{860}
\eD{ep2}{9}{eet2}{0}{764}\eS{eet2}{code36}{860}
\eF{ep2}{-14}{eid2}{0}{764}{1121}{930}
\eD{el2}{-9}{tsr2}{0}{764}\eD{el2}{10}{ter2}{0}{764}
\eS{tsr2}{tr6}{860}\eS{ter2}{tr7}{860}
\eD{arm1}{-9}{sat1}{0}{764}\eD{arm1}{9}{sado1}{0}{764}
\eS{sat1}{code40}{860}\eS{sado1}{code39}{860}
\eD{arm2}{-10}{sat2}{0}{764}\eD{arm2}{10}{sado2}{0}{764}
\eS{sat2}{code42}{860}\eS{sado2}{code41}{860}
\eD{ep3}{10}{eet3}{0}{764}\eS{eet3}{code37}{860}
\eD{ep3}{-10}{eid3}{0}{930}
\eD{ep3}{-14}{eid4}{0}{1100}
\eD{el5}{-9}{tsr5}{0}{764}\eD{el5}{8}{ter5}{0}{764}
\eS{tsr5}{tr12}{860}\eS{ter5}{tr13}{860}
\eD{el3}{-9}{tsr3}{0}{764}\eD{el3}{9}{ter3}{0}{764}
\eS{tsr3}{tr8}{860}\eS{ter3}{tr9}{860}
\eD{ep4}{-9}{eet4}{0}{764}\eD{ep4}{9}{eid5}{0}{764}
\eS{eet4}{code38}{860}\eD{eid5}{0}{enc5}{-9}{871}
\eD{el4}{-9}{tsr4}{0}{764}\eD{el4}{13}{ter4}{0}{764}
\eS{tsr4}{tr10}{860}\eS{ter4}{tr11}{860}
\eF{eEnc2}{0}{enc2}{0}{858}{2442}{1003}
% SAI 1 and SAI 5
\eD{sai1}{-10}{sieid1}{0}{764}\eD{sai1}{0}{sit1}{0}{764}\eD{sai1}{6}{rfsi1}{0}{775}
\eD{sai1}{10}{aid1}{0}{764}\eD{sai1}{-5}{gaid2}{0}{775}
\eD{sieid1}{0}{enc1}{13}{859}
\eD{sit1}{0}{timing1}{-9}{850}\eD{rfsi1}{0}{timing1}{10}{850}
\eD{aid1}{0}{act1}{-9}{860}
\eD{gaid2}{0}{act2}{0}{1181}
\eD{sai5}{-10}{sieid5}{0}{805}\eD{sai5}{1}{sit5}{0}{785}\eD{sai5}{5}{rfsi5}{0}{774}
\eD{sai5}{-3}{gaid5}{-16}{796}
\eD{sieid5}{0}{enc5}{13}{851}
\eD{sit5}{0}{timing5}{-8}{849}\eD{rfsi5}{0}{timing5}{11}{840}
\eD{eEnc5}{0}{enc4}{12}{1181}
\eF{esti2}{0}{sai4}{-9}{848}{3118}{1015}
\eD{esti1}{0}{sai2}{-9}{960}
% timing 1, encounter 5, timing 5, activity 1
\eD{timing1}{-10}{rtsi1}{0}{929}\eD{timing1}{0}{tty1}{0}{929}\eD{timing1}{10}{trf1}{0}{929}
\eD{rtsi1}{0}{sai2}{11}{1003}
\eS{tty1}{code44}{1010}\eS{trf1}{code47}{1010}
\eD{enc5}{-10}{et5}{0}{929}\eD{enc5}{0}{ecm5}{0}{929}\eD{enc5}{10}{ees5}{0}{929}
\eS{et5}{code25}{1010}\eS{ecm5}{code27}{1003}\eS{ees5}{code26}{1003}
\eD{timing5}{-10}{rtsi5}{0}{929}\eD{timing5}{0}{tty5}{0}{929}\eD{timing5}{10}{trf5}{0}{929}
\eD{rtsi5}{0}{sai4}{9}{1016}
\eS{tty5}{code65}{1010}\eS{trf5}{code67}{1010}
\eD{act1}{-14}{bcid1}{0}{960}\eD{act1}{-5}{bcsid1}{0}{950}\eD{act1}{5}{bcid2}{0}{940}\eD{act1}{14}{bcid3}{0}{930}
\eD{bcid1}{0}{bc1}{-10}{1010}
\eD{bcsid1}{0}{bcs1}{-9}{1005}
\eD{bcid2}{0}{bc2}{-10}{1047}
\eD{bcid3}{0}{bc3}{-9}{1025}
\eD{dbc1}{0}{bc1}{10}{1014}
\eD{dbcs}{0}{bcs1}{9}{1036}
\eD{dbc2}{0}{bc2}{9}{994}
\eD{dbc3}{0}{bc3}{10}{1000}
% encounter 1 and encounter ids
\eD{enc1}{-14}{fet1}{0}{929}\eD{enc1}{-10}{fter}{0}{940}\eD{enc1}{-6}{ftsr}{0}{951}
\eD{enc1}{-2}{fecm}{0}{961}\eD{enc1}{10}{fees}{0}{945}
\eS{fet1}{code13}{1010}\eS{fter}{tr2}{1010}\eS{ftsr}{tr1}{1005}\eS{fecm}{code15}{1010}\eS{fees}{code14}{1010}
\eD{eid2}{0}{enc2}{-13}{1171}
\eF{eid3}{0}{enc4}{-8}{1015}{2796}{1171}
\eS{eid4}{enc3}{1300}
\eD{fEncA}{0}{enc3}{-9}{1460}
\eD{fActA}{0}{act2}{-13}{1449}
% SAI 2
\eD{sai2}{-12}{gsieid2}{0}{1106}\eD{sai2}{-4}{gsit2}{0}{1117}\eD{sai2}{4}{grfsi2}{0}{1117}\eD{sai2}{10}{haid2}{0}{1106}
\eD{gsieid2}{0}{enc2}{11}{1171}
\eD{gsit2}{0}{timing2}{-9}{1180}\eD{grfsi2}{0}{timing2}{10}{1171}
\eD{haid2}{0}{act2}{-8}{1429}
\eD{enc2}{-12}{het2}{0}{1240}\eD{enc2}{-6}{hecm2}{0}{1251}\eD{enc2}{12}{hees2}{0}{1240}
\eS{het2}{code16}{1305}\eS{hecm2}{code18}{1305}\eS{hees2}{code17}{1305}
\eD{timing2}{-10}{htty2}{0}{1240}\eD{timing2}{-3}{htrf2}{0}{1251}\eD{timing2}{10}{hrtsi2}{0}{1240}
\eS{htty2}{code49}{1305}\eS{htrf2}{code52}{1305}
\eD{hrtsi2}{0}{sai3}{9}{1300}
\eF{fsti3}{0}{sai3}{-10}{1026}{2462}{1296}
% SAI 3
\eD{sai3}{-12}{isieid3}{0}{1364}\eD{sai3}{-6}{isit3}{0}{1374}\eD{sai3}{0}{irfsi3}{0}{1385}
\eD{sai3}{8}{irtsi3}{0}{1385}\eD{sai3}{12}{iaid3}{0}{1364}
\eD{isieid3}{0}{enc3}{9}{1429}
\eD{isit3}{0}{timing3}{-12}{1429}
\eD{irfsi3}{0}{timing3}{5}{1440}
\eD{irtsi3}{0}{timing3}{12}{1458}
\eD{iaid3}{0}{act2}{-4}{1439}
\eD{timing3}{-10}{jtty3}{0}{1522}\eD{timing3}{10}{jtrf3}{0}{1522}
\eS{jtty3}{code53}{1569}\eS{jtrf3}{code57}{1569}
\eD{enc3}{-14}{jet3}{0}{1525}\eD{enc3}{-5}{jtsr3}{0}{1525}\eD{enc3}{5}{jecm3}{0}{1532}\eD{enc3}{14}{jees3}{0}{1525}
\eS{jet3}{code19}{1569}\eS{jtsr3}{tr3}{1569}\eS{jecm3}{code21}{1569}\eS{jees3}{code20}{1569}
% SAI 4
\eD{sai4}{-13}{gsieid4}{0}{1106}\eD{sai4}{-6}{gsit4}{0}{1117}\eD{sai4}{4}{grfsi4}{0}{1128}\eD{sai4}{12}{haid4}{0}{1106}
\eS{gsieid4}{enc4}{1180}
\eD{gsit4}{0}{timing4}{-10}{1171}\eD{grfsi4}{0}{timing4}{9}{1171}
\eD{haid4}{0}{act2}{4}{1421}
\eD{gaid5}{0}{act2}{8}{1426}
\eD{enc4}{-10}{het4}{0}{1240}\eD{enc4}{0}{hecm4}{0}{1240}\eD{enc4}{10}{hees4}{0}{1240}
\eS{het4}{code22}{1305}\eS{hecm4}{code24}{1305}\eS{hees4}{code23}{1305}
\eD{timing4}{-10}{hrtsi4}{0}{1240}\eD{timing4}{0}{htty4}{0}{1240}\eD{timing4}{10}{htrf4}{0}{1240}
\eD{hrtsi4}{0}{sai3}{12}{1306}
\eS{htty4}{code60}{1305}\eS{htrf4}{code62}{1305}
% biomedical concepts
\eD{bc1}{-10}{gbcp1}{0}{1106}\eD{bc1}{10}{gbcc1}{0}{1106}
\eS{gbcp1}{bcp1}{1185}\eS{gbcc1}{alias3}{1185}
\eD{bcp1}{-14}{hprc1}{0}{1240}\eD{bcp1}{-6}{hprc2}{0}{1251}\eD{bcp1}{6}{hprc3}{0}{1240}\eD{bcp1}{14}{hpcc1}{0}{1240}
\eS{alias3}{hstd3}{1250}\eS{hstd3}{code68}{1305}
\eS{hprc1}{rc1}{1305}\eS{hprc2}{rc2}{1305}\eS{hprc3}{rc3}{1305}\eS{hpcc1}{alias4}{1305}
\eS{rc1}{icode1}{1385}\eS{rc2}{icode2}{1385}\eS{rc3}{icode3}{1385}\eS{alias4}{istd4}{1385}
\eS{icode1}{code69}{1450}\eS{icode2}{code70}{1450}\eS{icode3}{code71}{1450}\eS{istd4}{code72}{1450}
\eD{bc2}{-10}{gbcp2}{0}{1106}\eD{bc2}{9}{gbcc2}{0}{1106}
\eS{gbcp2}{bcp2}{1185}\eS{gbcc2}{alias5}{1185}
\eD{bcp2}{-10}{hprc4}{0}{1240}\eD{bcp2}{8}{hpcc2}{0}{1240}
\eS{alias5}{hstd5}{1250}\eS{hstd5}{code73}{1305}
\eS{hprc4}{rc4}{1305}\eS{hpcc2}{alias6}{1305}
\eS{rc4}{icode4}{1385}\eS{alias6}{istd6}{1385}
\eS{icode4}{code74}{1450}\eS{istd6}{code75}{1450}
\eD{bc3}{-12}{gbcp3}{0}{1106}\eD{bc3}{0}{gbcp4}{0}{1106}\eD{bc3}{12}{gbcc3}{0}{1106}
\eS{gbcp3}{bcp3}{1185}\eS{gbcp4}{bcp4}{1185}\eS{gbcc3}{alias7}{1185}
\eS{bcp3}{hpcc3}{1250}\eS{hpcc3}{alias8}{1305}\eS{alias8}{istd8}{1385}\eS{istd8}{code77}{1450}
\eD{bcp4}{-12}{hprc5}{0}{1240}\eD{bcp4}{-4}{hprc6}{0}{1251}\eD{bcp4}{4}{hprc7}{0}{1251}\eD{bcp4}{12}{hpcc4}{0}{1240}
\eS{hprc5}{rc5}{1305}\eS{hprc6}{rc6}{1305}\eS{hprc7}{rc7}{1305}\eS{hpcc4}{alias9}{1305}
\eS{rc5}{icode5}{1385}\eS{rc6}{icode6}{1385}\eS{rc7}{icode7}{1385}\eS{alias9}{istd9}{1385}
\eS{icode5}{code78}{1450}\eS{icode6}{code79}{1450}\eS{icode7}{code80}{1450}\eS{istd9}{code81}{1450}
\eS{alias7}{hstd7}{1250}\eS{hstd7}{code76}{1305}
\end{pgfonlayer}
\end{tikzpicture}
\end{document}
